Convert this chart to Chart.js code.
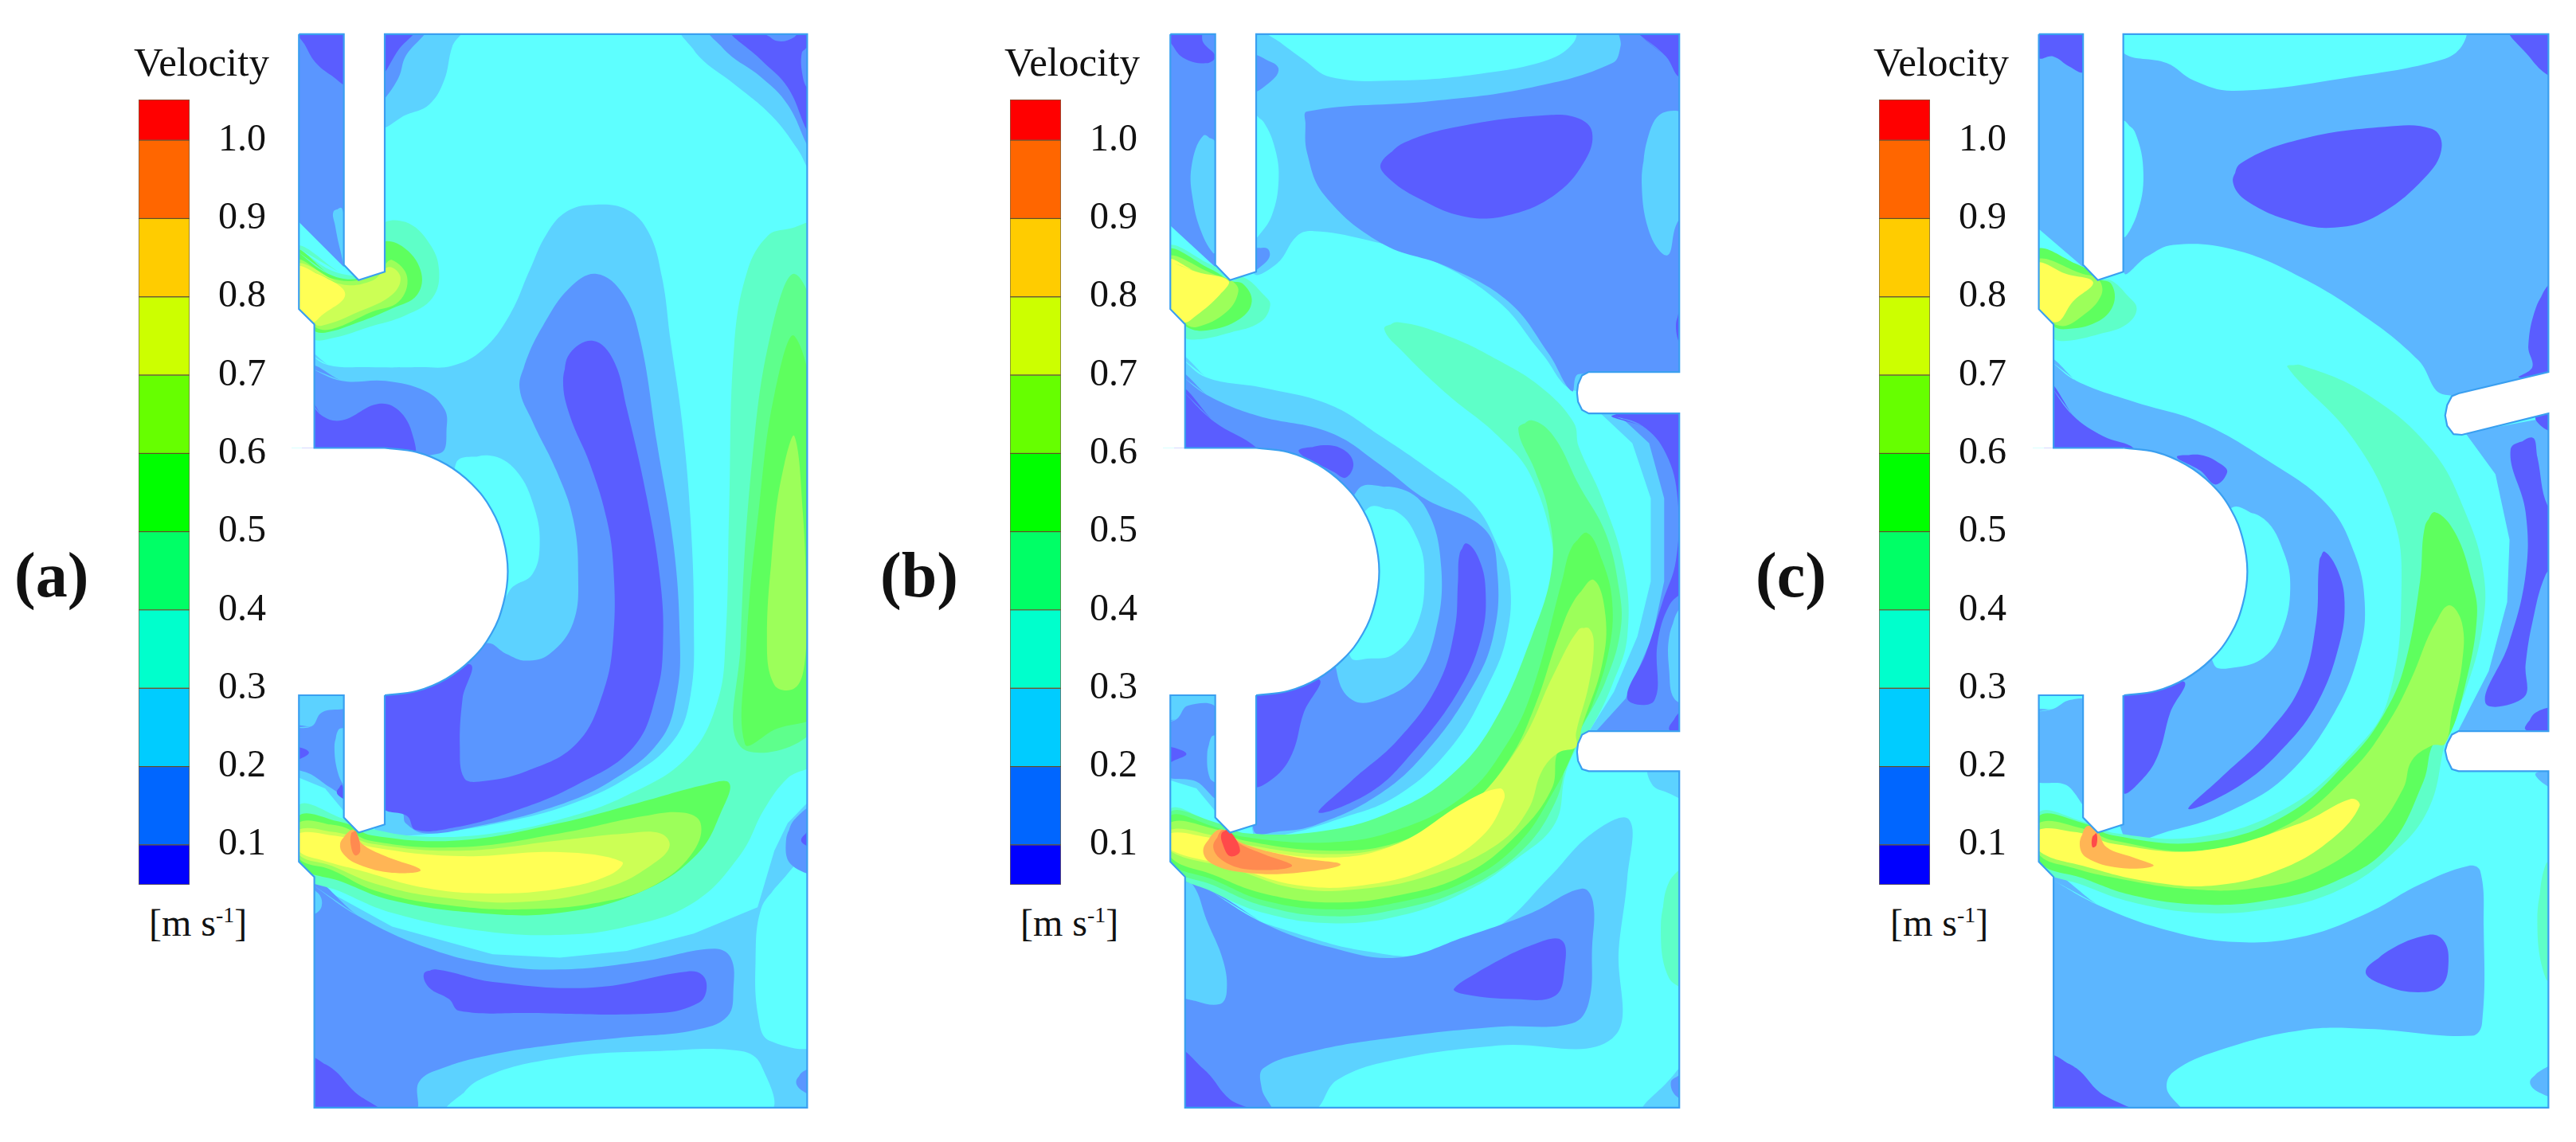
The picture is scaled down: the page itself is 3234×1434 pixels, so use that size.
<!DOCTYPE html>
<html><head><meta charset="utf-8">
<style>
html,body{margin:0;padding:0;background:#fff;width:3234px;height:1434px;overflow:hidden}
canvas{position:absolute;display:block}
.t{position:absolute;font-family:"Liberation Serif",serif;color:#111;line-height:1;white-space:nowrap}
.t sup{font-size:.58em;line-height:0;vertical-align:.62em}
</style>
<script src="https://cdn.jsdelivr.net/npm/chart.js@4"></script>
</head><body>
<script>
// ---- colour bar ----
const velocityTicks=[0.1,0.2,0.3,0.4,0.5,0.6,0.7,0.8,0.9,1.0];
const barEdges=[0.049,0.1,0.2,0.3,0.4,0.5,0.6,0.7,0.8,0.9,1.0,1.052];
const barColors=['#0000ff','#0066ff','#00ccff','#00ffcc','#00ff66','#00ff00','#66ff00','#ccff00','#ffcc00','#ff6600','#ff0000'];
// ---- contour band colours (band index used by the contour tables) ----
const bandColors=['#5a5dff','#5a96ff','#5cd2ff','#5effff','#5effc8','#5eff8c','#5eff5e','#9cff5a','#ccff55','#ffff55','#ffb555','#ff8a50','#ff4a4a','#5cb6ff'];
// Contours: [band, sharp(1)/smooth(0), x,y,x,y...] on a 0-1568 grid
const contoursA=[
[3,1,[0,0,1568,0,1568,1568,0,1568]],
[2,1,[50,1235,50,1568,1568,1568,1568,1105,1540,1120,1480,1150,1440,1190,1390,1272,1200,1310,1000,1335,800,1345,600,1340,300,1300,150,1260]],
[3,0,[1400,1275,1450,1240,1570,1190,1570,1465,1425,1465,1392,1430,1384,1350]],
[1,0,[50,1235,200,1285,400,1330,600,1355,800,1362,1050,1350,1260,1332,1310,1345,1318,1390,1300,1430,1200,1450,1000,1460,800,1470,600,1485,450,1505,380,1525,365,1568,50,1568]],
[3,0,[470,1568,560,1522,800,1490,1100,1480,1340,1480,1400,1500,1420,1568]],
[1,0,[1505,1525,1525,1510,1570,1505,1570,1545,1525,1538]],
[0,0,[50,1490,120,1505,190,1540,265,1568,50,1568]],
[0,0,[395,1368,430,1362,600,1380,900,1388,1180,1365,1225,1370,1238,1390,1215,1410,1100,1425,700,1425,500,1422,470,1405,410,1388]],
[2,0,[60,1245,85,1255,90,1270,75,1280,60,1280]],
[1,0,[1475,1175,1500,1145,1570,1125,1570,1220,1490,1210]],
[0,0,[1520,1175,1545,1160,1570,1160,1570,1190,1545,1185]],
[1,1,[0,0,156,0,156,345,22,280,0,270]],
[0,0,[10,0,100,0,165,0,165,80,120,68,70,48,38,22]],
[2,0,[125,265,150,260,160,300,160,345,145,320,130,285]],
[2,0,[270,0,510,0,480,25,455,75,410,110,340,125,270,140]],
[1,0,[270,0,400,0,340,40,320,70,280,100,265,105]],
[0,0,[270,0,370,0,320,30,270,65]],
[2,0,[1165,0,1215,40,1320,80,1430,125,1510,175,1570,225,1570,0]],
[1,0,[1245,0,1300,35,1400,70,1480,110,1545,175,1570,190,1570,0]],
[0,0,[1310,0,1400,45,1480,85,1540,150,1570,170,1570,0]],
[1,0,[1410,5,1450,18,1500,12,1510,0]],
[1,0,[1540,28,1522,35,1525,70,1540,85,1560,60]],
[2,0,[50,470,110,487,230,490,380,490,480,488,570,465,650,415,710,350,760,298,820,265,900,255,1000,262,1065,295,1105,360,1130,450,1165,570,1190,710,1200,860,1190,965,1140,1030,1000,1085,820,1125,620,1150,420,1165,278,1170,250,1170,250,965,250,600,50,600]],
[3,0,[490,630,590,618,670,640,725,695,740,750,718,790,660,808,620,830,500,760]],
[1,0,[680,520,700,480,750,430,830,375,910,355,990,385,1040,450,1090,600,1140,750,1158,880,1150,960,1100,1030,950,1090,760,1130,550,1155,400,1165,340,1150,330,1135,270,1125,260,950,580,890,640,905,700,915,770,905,840,860,855,790,840,710,790,640,720,570]],
[0,0,[810,510,830,470,900,452,960,480,1000,550,1060,680,1100,800,1108,890,1090,960,1020,1040,850,1095,650,1135,480,1157,370,1160,345,1140,270,1125,260,950,530,920,510,970,502,1040,515,1085,560,1090,700,1075,850,1035,930,960,960,880,960,780,940,710,890,630,830,560]],
[1,0,[50,490,150,510,280,510,400,525,455,550,463,575,440,615,50,615]],
[0,0,[50,535,90,560,150,567,260,543,325,555,365,595,360,620,50,620]],
[2,1,[0,960,160,960,160,1135,100,1100,0,1080]],
[1,0,[0,1012,60,1010,90,990,156,985,165,985,165,1110,120,1100,60,1080,0,1065]],
[2,0,[128,1040,140,1015,160,1015,160,1095,140,1080]],
[0,0,[10,1040,35,1042,52,1048,35,1055,10,1058]],
[0,0,[135,1105,150,1095,160,1115,145,1112]],
[4,0,[1570,285,1480,290,1420,300,1360,350,1320,460,1305,700,1295,880,1270,975,1180,1055,1000,1110,800,1145,600,1165,400,1170,250,1160,160,1145,20,1125,20,1220,150,1250,300,1280,550,1305,800,1312,1000,1300,1200,1265,1340,1195,1410,1130,1480,1085,1570,1055]],
[5,0,[1340,1040,1340,880,1375,620,1430,440,1500,355,1570,450,1570,1000]],
[6,0,[1352,1035,1358,880,1395,690,1440,530,1500,445,1570,600,1570,985,1440,1015]],
[7,0,[1418,880,1440,720,1470,630,1500,590,1525,700,1535,830,1530,920,1500,955,1440,950]],
[6,0,[20,1140,160,1150,240,1168,500,1175,800,1150,1040,1120,1230,1095,1305,1092,1285,1130,1210,1195,1040,1250,800,1280,550,1280,300,1262,150,1235,20,1210]],
[7,0,[20,1150,150,1155,230,1175,500,1185,800,1165,1050,1140,1170,1135,1220,1150,1200,1190,1100,1235,950,1262,700,1275,450,1268,250,1248,120,1218,20,1200]],
[8,0,[20,1160,150,1165,240,1180,500,1190,800,1175,1000,1165,1100,1165,1128,1182,1090,1205,950,1242,700,1264,450,1258,250,1238,120,1212,20,1195]],
[9,0,[20,1165,150,1170,240,1185,500,1198,800,1192,985,1206,950,1225,800,1245,600,1252,400,1244,200,1218,100,1205,20,1190]],
[10,0,[145,1180,165,1165,185,1160,210,1180,280,1198,385,1218,300,1222,200,1210,155,1195]],
[11,0,[178,1165,192,1162,205,1190,190,1197,178,1185]],
[4,0,[10,315,150,355,278,345,270,285,340,280,410,310,440,350,420,390,340,415,230,432,130,447,60,448,10,400]],
[6,0,[10,320,110,355,200,362,278,345,270,310,330,315,385,350,375,385,300,405,200,425,100,440,60,435,10,400]],
[7,0,[10,335,110,360,200,364,270,345,300,335,345,360,320,395,240,410,120,435,70,432,10,405]],
[8,0,[10,340,150,370,240,365,290,345,325,360,300,385,200,410,90,430,60,425,10,400]],
[9,0,[10,345,100,360,160,385,90,415,60,425,10,405]]
];
const contoursB=[
[3,1,[0,0,1568,0,1568,1568,0,1568]],
[1,1,[0,0,156,0,156,345,22,285,0,275]],
[0,0,[22,20,60,42,130,50,156,40,120,20,110,0,0,0]],
[2,0,[120,155,156,165,160,320,150,325,115,295,90,250,85,200]],
[2,0,[270,0,1570,0,1570,520,1235,525,1130,470,1000,395,800,335,600,305,450,293,400,300,340,340,270,352]],
[3,0,[300,0,1225,0,1225,20,1150,45,950,65,700,75,500,70,420,45,350,20]],
[1,0,[425,140,430,120,800,105,1100,85,1340,50,1365,25,1365,0,1570,0,1570,500,1240,500,1220,525,1150,470,1030,395,850,345,650,310,480,240,430,180]],
[1,0,[270,40,330,50,345,60,325,75,270,90]],
[1,0,[270,320,310,318,318,330,290,345,270,350]],
[3,0,[270,125,300,135,335,175,345,220,325,270,285,300,270,305]],
[0,0,[650,195,720,165,900,140,1150,125,1240,130,1280,150,1260,190,1170,240,1030,270,900,272,760,245,670,215]],
[0,0,[1420,8,1500,40,1540,70,1570,60,1570,0,1410,0]],
[2,0,[1428,225,1445,160,1490,122,1570,130,1570,250,1530,285,1505,328,1455,300]],
[0,0,[1530,430,1545,405,1570,405,1570,470,1545,460]],
[2,1,[1305,557,1400,600,1455,680,1455,800,1415,880,1345,960,1270,1018,1570,1018,1570,555]],
[1,1,[1350,555,1450,600,1495,680,1495,800,1460,880,1380,970,1290,1018,1570,1018,1570,555]],
[0,0,[1340,560,1430,575,1500,615,1535,680,1530,770,1490,830,1440,905,1385,970,1465,973,1475,890,1510,835,1570,800,1570,555]],
[2,0,[1510,880,1540,840,1570,840,1570,975,1525,970,1510,930]],
[0,0,[1510,1015,1540,990,1570,990,1570,1020]],
[2,0,[50,475,130,505,300,520,500,545,650,590,800,640,930,690,1000,750,1035,800,1025,880,970,950,860,1040,700,1110,520,1145,350,1168,270,1168,260,965,50,615]],
[1,0,[50,500,130,530,280,560,500,585,650,632,780,680,960,725,998,790,985,880,920,955,780,1050,640,1110,460,1152,350,1162,270,1160,260,960,50,610]],
[2,0,[580,668,700,665,785,695,830,780,812,875,750,940,640,972,565,972,520,935,500,800]],
[3,0,[610,695,700,700,760,740,780,790,760,860,690,905,610,912,560,910,500,800]],
[0,0,[270,960,465,942,420,990,385,1050,330,1085,270,1095]],
[0,0,[405,612,480,603,540,610,568,630,545,650,510,642]],
[0,0,[885,760,905,745,940,765,962,810,950,880,880,960,740,1050,620,1105,465,1135,560,1090,700,1030,820,950,870,870,880,800]],
[0,0,[50,520,150,568,280,607,270,620,50,620]],
[2,1,[0,960,160,960,160,1135,100,1100,0,1085]],
[1,0,[0,1005,40,1000,75,980,160,985,160,1112,100,1090,0,1078]],
[2,0,[132,1050,145,1025,160,1025,160,1090,140,1085]],
[0,0,[10,1040,40,1042,70,1050,40,1058,10,1062]],
[2,0,[50,1232,200,1275,400,1310,600,1335,800,1340,1000,1300,1150,1230,1280,1165,1390,1145,1385,1230,1360,1330,1340,1462,1000,1472,700,1492,520,1522,440,1568,50,1568]],
[1,0,[130,1245,300,1295,500,1330,700,1345,900,1315,1100,1280,1250,1245,1283,1265,1280,1330,1270,1410,1220,1440,1000,1445,700,1460,450,1480,300,1505,295,1535,320,1568,50,1568,50,1240]],
[2,0,[50,1235,90,1240,130,1290,180,1350,190,1395,170,1412,100,1408,50,1395]],
[0,0,[868,1390,960,1360,1110,1325,1190,1320,1198,1360,1170,1400,1050,1405,900,1398]],
[2,0,[1430,1568,1510,1522,1570,1495,1570,1568]],
[1,0,[1515,1525,1540,1515,1570,1510,1570,1550,1530,1545]],
[0,0,[50,1480,130,1510,200,1550,280,1568,50,1568]],
[4,0,[1485,1300,1510,1235,1570,1215,1570,1385,1510,1375]],
[2,0,[1450,1070,1570,1070,1570,1115,1500,1105,1460,1095]],
[4,0,[660,435,700,425,850,445,1000,480,1130,520,1225,570,1240,605,1310,680,1375,780,1385,880,1340,950,1280,1010,1235,1040,1200,1080,1170,1150,1060,1200,900,1250,700,1285,500,1295,300,1280,150,1250,20,1215,20,1130,150,1150,250,1165,500,1165,700,1140,900,1090,1040,1030,1120,950,1170,850,1170,770,1100,650,1000,590,850,530,720,470]],
[5,0,[1060,580,1100,567,1165,590,1240,660,1320,730,1360,810,1365,870,1320,945,1240,1020,1210,1050,1170,1120,1070,1190,900,1245,700,1275,500,1285,300,1270,150,1240,20,1212,20,1135,150,1148,250,1165,500,1160,700,1130,850,1085,980,1010,1100,880,1160,780,1150,700,1110,640]],
[6,0,[1220,750,1265,730,1310,770,1340,830,1330,900,1280,980,1245,1015,1230,1040,1170,1100,1060,1180,900,1235,700,1265,500,1275,300,1262,150,1232,20,1205,20,1140,150,1155,240,1170,500,1178,700,1160,900,1110,1020,1040,1100,960,1190,800]],
[7,0,[1230,825,1285,798,1320,850,1310,920,1250,1010,1232,1040,1180,1045,1160,1100,1060,1165,900,1225,700,1255,500,1265,300,1252,150,1225,20,1198,20,1150,150,1158,240,1175,500,1190,700,1178,900,1130,1030,1060,1110,980,1180,880]],
[8,0,[1240,870,1270,868,1285,890,1270,950,1232,1020,1232,1040,1180,1048,1130,1075,1090,1130,1000,1180,800,1225,600,1245,400,1245,200,1215,20,1190,20,1160,150,1168,230,1180,500,1195,700,1180,900,1130,1060,1040,1170,930]],
[9,0,[20,1165,150,1172,240,1185,500,1200,700,1180,900,1120,1005,1100,1018,1115,950,1170,800,1215,600,1240,400,1240,200,1212,20,1188]],
[10,0,[120,1190,150,1165,180,1160,240,1180,400,1200,530,1210,400,1222,250,1222,150,1210]],
[11,0,[150,1185,180,1160,230,1180,300,1195,385,1212,280,1218,190,1208]],
[12,0,[175,1165,195,1160,230,1190,200,1198,178,1180]],
[4,0,[10,315,156,345,200,365,240,360,300,385,320,400,290,425,200,440,100,450,60,445,10,400]],
[6,0,[10,320,150,350,200,365,240,370,265,395,230,420,130,437,65,430,10,400]],
[7,0,[10,330,150,355,205,365,225,380,190,410,100,432,60,425,10,400]],
[9,0,[10,335,100,352,195,365,170,385,100,415,60,425,10,400]]
];
const contoursC=[
[3,1,[0,0,1568,0,1568,1568,0,1568]],
[13,1,[0,0,150,0,150,345,18,290,0,280]],
[0,0,[18,0,150,0,150,62,110,55,60,40,18,42]],
[13,0,[270,0,1570,0,1570,500,1230,530,1150,480,1000,420,800,360,600,320,420,313,340,330,272,352]],
[3,0,[270,0,1285,0,1280,25,1220,45,950,70,600,90,480,75,400,50,270,35]],
[3,0,[270,135,305,150,330,210,310,270,270,300]],
[0,0,[597,222,620,195,800,160,1050,142,1190,145,1220,170,1180,210,1030,270,900,288,780,280,640,250]],
[0,0,[1420,0,1570,0,1570,70,1530,65,1480,40]],
[0,0,[1540,370,1500,405,1478,460,1490,490,1450,505,1570,500,1570,370]],
[13,1,[1290,585,1380,645,1422,740,1415,830,1360,930,1265,1020,1570,1020,1570,560]],
[0,0,[1425,610,1490,592,1505,620,1535,690,1570,690,1570,770,1530,790,1490,860,1470,920,1465,968,1350,976,1420,890,1470,790,1470,700]],
[0,0,[1500,562,1570,555,1570,582,1530,580]],
[0,0,[1470,1015,1500,990,1570,985,1570,1020]],
[13,0,[50,480,130,510,300,540,500,570,700,625,880,690,960,760,990,830,975,900,900,990,760,1080,600,1130,420,1160,270,1168,260,965,50,615]],
[3,0,[590,695,690,710,750,760,768,810,745,870,690,910,600,925,540,920,500,800]],
[0,0,[50,515,120,560,210,590,300,607,270,620,50,620]],
[0,0,[430,620,500,617,560,630,580,642,545,660,500,640]],
[0,0,[270,960,450,945,410,990,375,1050,330,1085,270,1105]],
[0,0,[855,770,870,757,910,785,930,830,915,890,850,975,750,1040,620,1095,465,1130,560,1085,700,1020,800,950,845,860]],
[13,0,[0,990,60,985,110,972,160,975,160,1125,100,1095,0,1085]],
[13,0,[50,1230,200,1270,400,1305,600,1322,800,1315,1000,1280,1150,1240,1300,1212,1335,1220,1345,1300,1340,1440,1310,1458,1000,1448,800,1450,550,1480,420,1510,400,1535,440,1568,50,1568]],
[0,0,[993,1365,1060,1335,1180,1312,1225,1320,1240,1350,1220,1385,1150,1395,1050,1385]],
[0,0,[50,1488,130,1505,200,1540,300,1568,50,1568]],
[4,0,[1505,1290,1530,1210,1570,1205,1570,1380,1530,1375]],
[13,0,[1483,1525,1510,1510,1570,1500,1570,1545,1510,1540]],
[13,0,[1500,1078,1570,1075,1570,1100,1530,1095]],
[4,0,[760,490,800,487,1000,530,1190,610,1290,700,1345,790,1340,870,1290,960,1235,1025,1180,1130,1060,1200,900,1250,700,1275,500,1280,300,1265,150,1240,18,1212,18,1135,150,1148,250,1165,500,1170,750,1130,950,1050,1060,970,1100,800,1070,700,950,590]],
[6,0,[1170,720,1200,700,1260,730,1310,800,1325,850,1290,950,1235,1030,1195,1035,1165,1090,1060,1185,900,1235,700,1262,500,1268,300,1255,150,1230,18,1205,18,1140,150,1150,240,1168,500,1178,750,1140,950,1055,1050,990,1110,920,1155,800]],
[7,0,[1190,870,1240,835,1280,860,1280,920,1250,990,1230,1035,1190,1038,1130,1060,1105,1100,1020,1160,850,1220,650,1245,450,1245,250,1230,120,1215,18,1195,18,1150,150,1158,240,1175,500,1190,750,1155,950,1075,1060,1005,1130,940]],
[9,0,[18,1160,150,1165,240,1180,500,1190,800,1150,950,1115,975,1125,900,1170,750,1215,550,1240,350,1235,150,1212,18,1190]],
[10,0,[140,1180,160,1155,190,1160,220,1185,300,1200,360,1212,260,1215,160,1200]],
[12,0,[178,1170,190,1165,190,1182,178,1185]],
[4,0,[10,320,150,348,195,362,235,365,280,385,310,405,280,428,200,442,100,452,60,447,10,400]],
[6,0,[10,320,150,345,195,362,235,370,240,400,190,425,100,435,60,430,10,400]],
[7,0,[10,335,150,355,195,362,205,385,150,415,80,430,10,400]],
[9,0,[10,340,100,355,180,367,120,395,70,425,10,400]]
];
// Domain outlines
const outlineA=[22,8,156,8,156,342,200,364,278,352,278,8,1538,8,1538,1562,68,1562,68,1228,22,1206,22,965,156,965,156,1142,200,1164,278,1152,278,965];
const outlineA2=[278,607,68,607,68,428,22,406,22,8];
const arcA=[278,607,373,613,462,631,537,659,596,696,632,740,645,786,632,832,596,876,537,913,462,941,373,959,278,965];
const outlineB=[22,8,156,8,156,342,200,364,278,352,278,8,1540,8,1540,497,1270,497,1250,502,1238,515,1235,527,1238,540,1250,552,1270,557,1540,557,1540,1017,1270,1017,1250,1022,1238,1035,1235,1047,1238,1060,1250,1072,1270,1075,1540,1075,1540,1562,66,1562,66,1228,22,1206,22,965,156,965,156,1142,200,1164,278,1152,278,965];
const outlineB2=[278,607,66,607,66,428,22,406,22,8];
const arcB=[278,607,373,613,462,631,537,659,596,696,632,740,645,786,632,832,596,876,537,913,462,941,373,959,278,965];
const outlineC=[18,8,150,8,150,342,194,364,270,352,270,8,1538,8,1538,497,1270,528,1250,532,1236,545,1230,560,1236,575,1255,587,1280,588,1538,557,1538,1017,1270,1017,1250,1022,1236,1035,1230,1045,1236,1058,1250,1072,1270,1075,1538,1075,1538,1562,62,1562,62,1228,18,1206,18,965,150,965,150,1142,194,1164,270,1152,270,965];
const outlineC2=[272,607,62,607,62,428,18,406,18,8];
const arcC=[272,607,367,613,456,631,532,659,591,696,627,740,640,786,627,832,591,876,532,913,456,941,367,959,272,965];
// White areas outside the domain (slots, baffles, inlet steps, margins)
const masksA=[[0,0,1568,0,1568,8,0,8],[1538,0,1568,0,1568,1568,1538,1568],[0,1562,1568,1562,1568,1568,0,1568],[0,0,22,0,22,406,68,428,68,607,0,607],[0,965,22,965,22,1206,68,1228,68,1568,0,1568],[0,607,290,607,290,965,0,965],[156,0,278,0,278,352,200,364,156,342],[156,960,278,960,278,1152,200,1164,156,1142]];
const masksB=[[0,0,1568,0,1568,8,0,8],[1540,0,1568,0,1568,1568,1540,1568],[0,1562,1568,1562,1568,1568,0,1568],[0,0,22,0,22,406,66,428,66,607,0,607],[0,965,22,965,22,1206,66,1228,66,1568,0,1568],[0,607,290,607,290,965,0,965],[156,0,278,0,278,352,200,364,156,342],[156,960,278,960,278,1152,200,1164,156,1142],[1568,497,1270,497,1250,502,1238,515,1235,527,1238,540,1250,552,1270,557,1568,557],[1568,1017,1270,1017,1250,1022,1238,1035,1235,1047,1238,1060,1250,1072,1270,1075,1568,1075]];
const masksC=[[0,0,1568,0,1568,8,0,8],[1538,0,1568,0,1568,1568,1538,1568],[0,1562,1568,1562,1568,1568,0,1568],[0,0,18,0,18,406,62,428,62,607,0,607],[0,965,18,965,18,1206,62,1228,62,1568,0,1568],[0,607,284,607,284,965,0,965],[150,0,270,0,270,352,194,364,150,342],[150,960,270,960,270,1152,194,1164,150,1142],[1568,494,1270,528,1250,532,1236,545,1230,560,1236,575,1255,587,1280,588,1568,554],[1568,1017,1270,1017,1250,1022,1236,1035,1230,1045,1236,1058,1250,1072,1270,1075,1568,1075]];

// ---- layout ----
const OUT='#3a9ff0';
const toPts=f=>{const p=[];for(let i=0;i<f.length;i+=2)p.push({x:f[i],y:f[i+1]});return p;};
const closed=p=>p.concat([p[0],p[1]]);
function mk(w,h,l,t){const c=document.createElement('canvas');c.width=w;c.height=h;c.style.cssText=`left:${l}px;top:${t}px;width:${w}px;height:${h}px`;document.body.appendChild(c);return c;}
function field(left,contours,masks,arc,lines){
  const ds=[];
  const fillSet=(pts,color,t)=>ds.push({data:pts,showLine:true,pointRadius:0,borderWidth:0,borderColor:'rgba(0,0,0,0)',backgroundColor:color,fill:'shape',tension:t});
  contours.forEach(([b,sharp,f])=>{const p=toPts(f);fillSet(sharp?p:closed(p),bandColors[b],sharp?0:0.4);});
  masks.forEach(f=>fillSet(toPts(f),'#ffffff',0));
  fillSet(toPts(arc),'#ffffff',0.4);
  lines.forEach(([f,t])=>ds.push({data:toPts(f),showLine:true,pointRadius:0,borderWidth:2.2,borderColor:OUT,fill:false,tension:t}));
  const n=ds.length;ds.forEach((d,i)=>d.order=n-i);
  new Chart(mk(660,1360,left,36),{type:'scatter',data:{datasets:ds},options:{
    responsive:false,animation:false,events:[],layout:{padding:0},
    plugins:{legend:{display:false},tooltip:{enabled:false},title:{display:false}},
    scales:{x:{type:'linear',min:0,max:1568,display:false},y:{type:'linear',min:0,max:1568,reverse:true,display:false}}
  }});
}
function colorBar(left){
  const ds=barColors.map((c,i)=>({data:[[barEdges[i],barEdges[i+1]]],backgroundColor:c,borderColor:'rgba(70,50,0,.75)',borderWidth:1,borderSkipped:false,barPercentage:1,categoryPercentage:1,grouped:false}));
  new Chart(mk(170,986,left,125),{type:'bar',data:{labels:['Velocity'],datasets:ds},options:{
    responsive:false,animation:false,events:[],layout:{padding:0},
    plugins:{legend:{display:false},tooltip:{enabled:false}},
    scales:{x:{display:false},y:{position:'right',min:barEdges[0],max:barEdges[barEdges.length-1],
      grid:{display:false,drawTicks:false},border:{display:false},
      afterBuildTicks:s=>{s.ticks=velocityTicks.map(v=>({value:v}));},
      afterFit:s=>{s.width=106;s.paddingTop=0;s.paddingBottom=0;},
      ticks:{autoSkip:false,padding:36,color:'#111',align:'center',crossAlign:'near',font:{family:'"Liberation Serif"',size:48},callback:v=>Number(v).toFixed(1)}}}
  }});
}
function text(html,l,t,fs,bold){const d=document.createElement('div');d.className='t';d.innerHTML=html;d.style.cssText=`left:${l}px;top:${t}px;font-size:${fs}px;${bold?'font-weight:bold;':''}`;document.body.appendChild(d);}

field(366,contoursA,masksA,arcA,[[outlineA,0],[outlineA2,0],[arcA,0.4]]);
field(1460,contoursB,masksB,arcB,[[outlineB,0],[outlineB2,0],[arcB,0.4]]);
field(2552,contoursC,masksC,arcC,[[outlineC,0],[outlineC2,0],[arcC,0.4]]);
colorBar(174);colorBar(1268);colorBar(2359);
[[168,187,18,'(a)'],[1261,1281,1105,'(b)'],[2352,2373,2204,'(c)']].forEach(([v,u,p,lab])=>{
  text('Velocity',v,53,51);
  text('[m s<sup>-1</sup>]',u,1135,48);
  text(lab,p,682,80,true);
});
</script>
</body></html>
